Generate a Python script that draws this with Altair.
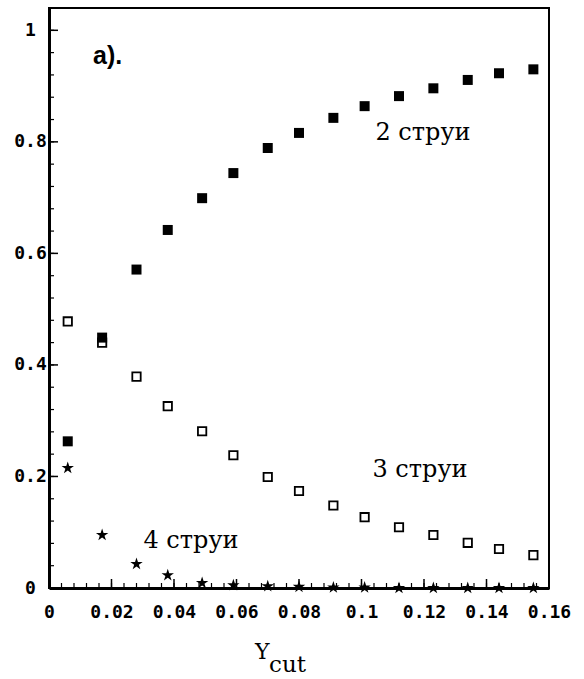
import altair as alt
import pandas as pd

# Y_cut values (x positions of the points)
x_cut = [0.006, 0.017, 0.028, 0.038, 0.049, 0.059, 0.070, 0.080,
         0.091, 0.101, 0.112, 0.123, 0.134, 0.144, 0.155]
# fractions of events
two_jets = [0.263, 0.449, 0.571, 0.642, 0.699, 0.744, 0.789, 0.816,
            0.843, 0.864, 0.882, 0.896, 0.911, 0.923, 0.930]
three_jets = [0.478, 0.440, 0.379, 0.326, 0.281, 0.238, 0.199, 0.174,
              0.148, 0.127, 0.109, 0.095, 0.081, 0.070, 0.059]
four_jets = [0.215, 0.095, 0.043, 0.023, 0.009, 0.005, 0.003, 0.002,
             0.001, 0.001, 0.0, 0.0, 0.0, 0.0, 0.0]

x_tick_labels = [0, 0.02, 0.04, 0.06, 0.08, 0.1, 0.12, 0.14, 0.16]
y_tick_labels = [0, 0.2, 0.4, 0.6, 0.8, 1.0]
x_minor = [round(i * 0.004, 3) for i in range(41)]
y_minor = [round(i * 0.04, 2) for i in range(26)]

STAR = ("M0,-1L0.2245,-0.309L0.951,-0.309L0.363,0.118L0.588,0.809L0,0.382"
        "L-0.588,0.809L-0.363,0.118L-0.951,-0.309L-0.2245,-0.309Z")

sx = alt.Scale(domain=[0, 0.16], nice=False, zero=False)
sy = alt.Scale(domain=[0, 1.04], nice=False)

df = pd.DataFrame({"x": x_cut, "two": two_jets, "three": three_jets, "four": four_jets})

xaxis = alt.Axis(values=x_tick_labels, format="~g", title=None, labelPadding=15,
                 labelAlign="center", labelBaseline="top")
yaxis = alt.Axis(values=y_tick_labels, format="~g", title=None, labelPadding=19,
                 labelAlign="center", labelBaseline="middle")

def X(f):
    return alt.X(f, scale=sx, axis=xaxis)

def Y(f):
    return alt.Y(f, scale=sy, axis=yaxis)

base = alt.Chart(df)

filled = base.mark_point(shape="square", filled=True, size=100, color="black", opacity=1).encode(
    x=X("x:Q"), y=Y("two:Q"))
opened = base.mark_point(shape="square", filled=False, size=70, color="black",
                         strokeWidth=1.8, opacity=1).encode(
    x=X("x:Q"), y=Y("three:Q"))
stars = base.mark_point(shape=STAR, filled=True, size=170, color="black", opacity=1).encode(
    x=X("x:Q"), y=Y("four:Q"))

ym = alt.Chart(pd.DataFrame({"v": y_minor})).mark_rule(color="black", strokeWidth=1.2).encode(
    y=Y("v:Q"), x=alt.value(0), x2=alt.value(5))
yM = alt.Chart(pd.DataFrame({"v": y_tick_labels})).mark_rule(color="black", strokeWidth=1.5).encode(
    y=Y("v:Q"), x=alt.value(0), x2=alt.value(9))
xm = alt.Chart(pd.DataFrame({"v": x_minor})).mark_rule(color="black", strokeWidth=1.2).encode(
    x=X("v:Q"), y=alt.value(580), y2=alt.value(575))
xM = alt.Chart(pd.DataFrame({"v": x_tick_labels})).mark_rule(color="black", strokeWidth=1.5).encode(
    x=X("v:Q"), y=alt.value(580), y2=alt.value(571))

one = pd.DataFrame({"a": [0]})
def txt(s, x, y, font, size, weight="normal", align="center"):
    return alt.Chart(one).mark_text(text=s, font=font, fontSize=size, fontWeight=weight,
                                    align=align, baseline="alphabetic", color="black").encode(
        x=alt.value(x), y=alt.value(y))

labels = [
    txt("a).", 44, 56, "Liberation Sans", 25, "bold", "left"),
    txt("2 струи", 374, 132, "DejaVu Serif", 24),
    txt("3 струи", 371, 469, "DejaVu Serif", 24),
    txt("4 струи", 142, 540, "DejaVu Serif", 24),
    txt("Y", 206, 651, "DejaVu Serif", 22, "normal", "left"),
    txt("cut", 220, 664, "DejaVu Serif", 23, "normal", "left"),
]

chart = alt.layer(filled, ym, yM, xm, xM, opened, stars, *labels).properties(
    width=500, height=580,
    autosize=alt.AutoSizeParams(type="none"),
    padding={"left": 49, "top": 8, "right": 35, "bottom": 91},
    background="white",
).configure_view(stroke="black", strokeWidth=2).configure_axis(
    grid=False, ticks=False, tickSize=0, domainColor="black", domainWidth=3,
    labelFont="DejaVu Sans Mono", labelFontSize=18, labelFontWeight="bold", labelColor="black",
)

chart.save("out.html", embed_options={"renderer": "svg", "actions": False})
